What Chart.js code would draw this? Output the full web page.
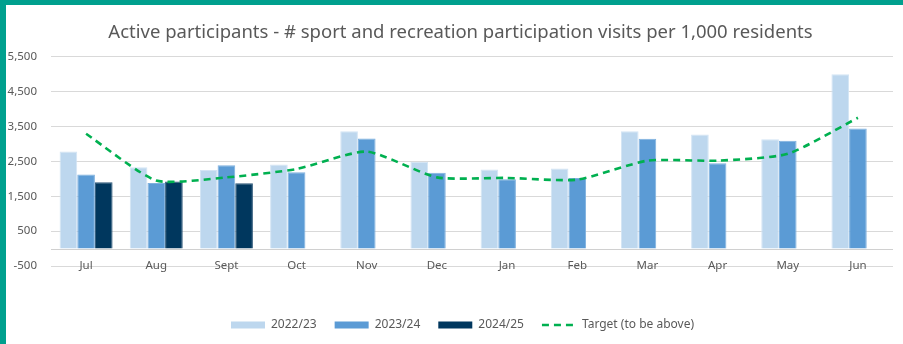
<!DOCTYPE html>
<html>
<head>
<meta charset="utf-8">
<script src="https://cdn.jsdelivr.net/npm/chart.js@4/dist/chart.umd.min.js"></script>
<style>
  html, body { margin: 0; padding: 0; background: #fff; }
  #frame {
    width: 897px;
    height: 339px;
    border-left: 6px solid #00a08e;
    border-top: 5px solid #00a08e;
    position: relative;
  }
</style>
</head>
<body>
<div id="frame"><canvas id="chart-participation"></canvas></div>
<script>
var months = ['Jul', 'Aug', 'Sept', 'Oct', 'Nov', 'Dec', 'Jan', 'Feb', 'Mar', 'Apr', 'May', 'Jun'];
var visits2223 = [2780, 2330, 2255, 2410, 3360, 2485, 2265, 2295, 3360, 3270, 3130, 5000];
var visits2324 = [2120, 1880, 2390, 2185, 3155, 2170, 1985, 2025, 3150, 2445, 3090, 3445];
var visits2425 = [1900, 1925, 1870, null, null, null, null, null, null, null, null, null];
var target = [3290, 1950, 2040, 2280, 2780, 2040, 2025, 1975, 2520, 2520, 2715, 3750];
var yTicks = [-500, 500, 1500, 2500, 3500, 4500, 5500];

(function () {
  'use strict';

  var grey = '#595959';
  var font = 'Noto Sans';
  var targetDash = [7, 5];

  // thin rule at zero where the bars sit
  var zeroLine = {
    id: 'zeroLine',
    beforeDatasetsDraw: function (chart) {
      var y = Math.round(chart.scales.y.getPixelForValue(0)) + 0.5;
      var ctx = chart.ctx;
      ctx.save();
      ctx.strokeStyle = '#d0d0d0';
      ctx.lineWidth = 1;
      ctx.beginPath();
      ctx.moveTo(chart.chartArea.left, y);
      ctx.lineTo(chart.chartArea.right, y);
      ctx.stroke();
      ctx.restore();
    }
  };

  // title and legend sit a little right of the canvas centre
  var nudge = {
    id: 'nudge',
    afterLayout: function (chart) {
      [[chart.titleBlock, 11], [chart.legend, 13]].forEach(function (p) {
        p[0].left += p[1];
        p[0].right += p[1];
      });
    }
  };

  function bar(label, data, color, edge) {
    return {
      type: 'bar',
      label: label,
      data: data,
      backgroundColor: color,
      borderColor: edge,
      borderWidth: 1,
      pointStyle: 'rect',
      barPercentage: 1,
      categoryPercentage: 0.755
    };
  }

  function legendLabels(chart) {
    var items = Chart.defaults.plugins.legend.labels.generateLabels(chart);
    items.forEach(function (it) {
      if (it.pointStyle === 'line') {
        it.lineDash = targetDash;
        it.lineWidth = 2.5;
        it.strokeStyle = '#00b050';
      } else {
        it.lineWidth = 0;
      }
    });
    return items;
  }

  new Chart(document.getElementById('chart-participation'), {
    data: {
      labels: months,
      datasets: [
        bar('2022/23', visits2223, '#bdd7ee', '#d3e4f4'),
        bar('2023/24', visits2324, '#5b9bd5', '#7eb0de'),
        bar('2024/25', visits2425, '#00375e', '#2b5677'),
        {
          type: 'line',
          label: 'Target (to be above)',
          data: target,
          borderColor: '#00b050',
          backgroundColor: '#00b050',
          borderWidth: 2.6,
          borderDash: targetDash,
          pointRadius: 0,
          pointStyle: 'line',
          tension: 0.2,
          order: -1
        }
      ]
    },
    options: {
      responsive: true,
      maintainAspectRatio: false,
      animation: false,
      layout: { padding: { left: 0, right: 10, top: 0, bottom: 3 } },
      plugins: {
        title: {
          display: true,
          text: 'Active participants - # sport and recreation participation visits per 1,000 residents',
          color: grey,
          font: { family: font, size: 18.5, weight: 'normal' },
          padding: { top: 17, bottom: 12.5 }
        },
        legend: {
          position: 'bottom',
          labels: {
            color: grey,
            font: { family: font, size: 12 },
            usePointStyle: true,
            pointStyleWidth: 34,
            boxHeight: 7,
            padding: 18,
            generateLabels: legendLabels,
            sort: function (a, b) { return a.datasetIndex - b.datasetIndex; }
          }
        },
        tooltip: { enabled: false }
      },
      scales: {
        x: {
          grid: { display: false, drawTicks: false },
          border: { display: false },
          ticks: { color: grey, font: { family: font, size: 11.5 }, mirror: true, padding: -7 },
          afterFit: function (s) { s.height = 35; }
        },
        y: {
          min: -500,
          max: 5500,
          afterBuildTicks: function (s) {
            s.ticks = yTicks.map(function (v) { return { value: v }; });
          },
          grid: { color: '#d9d9d9', drawTicks: false },
          border: { display: false },
          ticks: {
            color: grey,
            font: { family: font, size: 11.5 },
            padding: 14,
            callback: function (v) { return Number(v).toLocaleString('en-US'); }
          },
          afterFit: function (s) { s.width = 45; }
        }
      }
    },
    plugins: [zeroLine, nudge]
  });
})();
</script>
</body>
</html>
